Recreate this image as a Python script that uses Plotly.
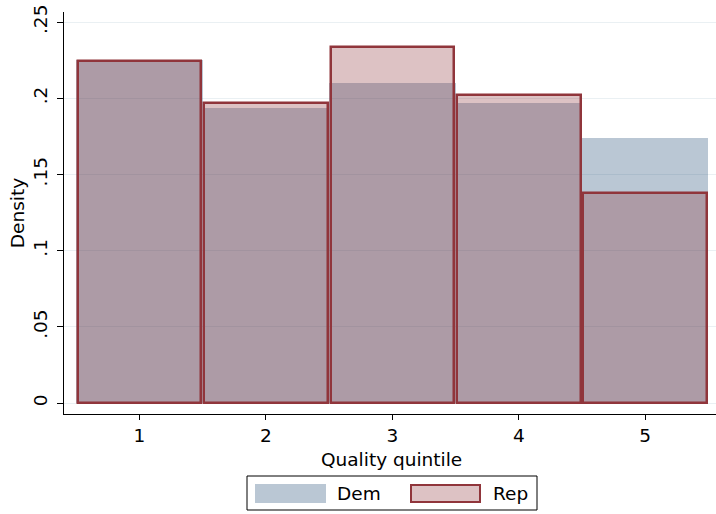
import plotly.graph_objects as go

quintiles = [1, 2, 3, 4, 5]
dem_density = [0.225, 0.1936, 0.2099, 0.1969, 0.1737]
rep_density = [0.2243, 0.1967, 0.2336, 0.2020, 0.1380]
y_tickvals = [0, 0.05, 0.1, 0.15, 0.2, 0.25]
y_ticktext = ["0", ".05", ".1", ".15", ".2", ".25"]

FONT = "DejaVu Sans"
FS = 18.5
DEM_FILL = "rgba(26,71,111,0.3)"
REP_FILL = "rgba(144,53,59,0.3)"
REP_LINE = "rgb(144,53,59)"

fig = go.Figure()
fig.add_trace(go.Bar(x=quintiles, y=dem_density, width=1.0, name="Dem",
                     marker=dict(color=DEM_FILL, line=dict(width=0)),
                     showlegend=False))
fig.add_trace(go.Bar(x=quintiles, y=rep_density, width=0.978, name="Rep",
                     marker=dict(color=REP_FILL, line=dict(color=REP_LINE, width=2.5)),
                     showlegend=False))

# plot area in pixels: x 64..716, y 12..414
X0, X1, Y0, Y1 = 64, 716, 12, 414

def px(x):
    return (x - X0) / float(X1 - X0)

def py(y):
    return (Y1 - y) / float(Y1 - Y0)

shapes = [
    dict(type="rect", xref="paper", yref="paper", x0=px(247), x1=px(537), y0=py(476), y1=py(510),
         line=dict(color="black", width=1), fillcolor="white"),
    dict(type="rect", xref="paper", yref="paper", x0=px(255), x1=px(326), y0=py(484), y1=py(503),
         line=dict(width=0), fillcolor=DEM_FILL),
    dict(type="rect", xref="paper", yref="paper", x0=px(411), x1=px(480), y0=py(485), y1=py(502),
         line=dict(color=REP_LINE, width=2), fillcolor=REP_FILL),
]
annotations = [
    dict(text="Dem", xref="paper", yref="paper", x=px(335), y=py(493.5), xanchor="left", yanchor="middle",
         showarrow=False, font=dict(family=FONT, size=FS, color="black")),
    dict(text="Rep", xref="paper", yref="paper", x=px(491), y=py(493.5), xanchor="left", yanchor="middle",
         showarrow=False, font=dict(family=FONT, size=FS, color="black")),
    dict(text="Quality quintile", xref="paper", yref="paper", x=px(391), y=py(447), xanchor="center",
         yanchor="top", showarrow=False, font=dict(family=FONT, size=FS, color="black")),
]

fig.update_layout(
    width=716, height=514,
    margin=dict(l=X0, r=716 - X1, t=Y0, b=514 - Y1),
    paper_bgcolor="white", plot_bgcolor="white",
    barmode="overlay", bargap=0,
    font=dict(family=FONT, size=FS, color="black"),
    shapes=shapes, annotations=annotations,
    xaxis=dict(range=[0.403, 5.56], tickvals=quintiles, ticktext=[str(q) for q in quintiles],
               showline=True, linecolor="black", linewidth=1, mirror=False,
               ticks="outside", ticklen=5, tickcolor="black", showgrid=False, zeroline=False,
               tickfont=dict(family=FONT, size=FS)),
    yaxis=dict(range=[-0.0072, 0.2566], tickvals=y_tickvals, ticktext=y_ticktext,
               tickangle=-90, showline=True, linecolor="black", linewidth=1,
               ticks="outside", ticklen=6, tickcolor="black", ticklabelstandoff=3,
               showgrid=True, gridcolor="#eaf0f3", gridwidth=1, zeroline=False,
               tickfont=dict(family=FONT, size=FS),
               title=dict(text="Density", font=dict(family=FONT, size=FS), standoff=0)),
)

fig.write_html("out.html", config={"displayModeBar": False},
               post_script="document.body.style.margin='0';document.body.style.overflow='hidden';")
